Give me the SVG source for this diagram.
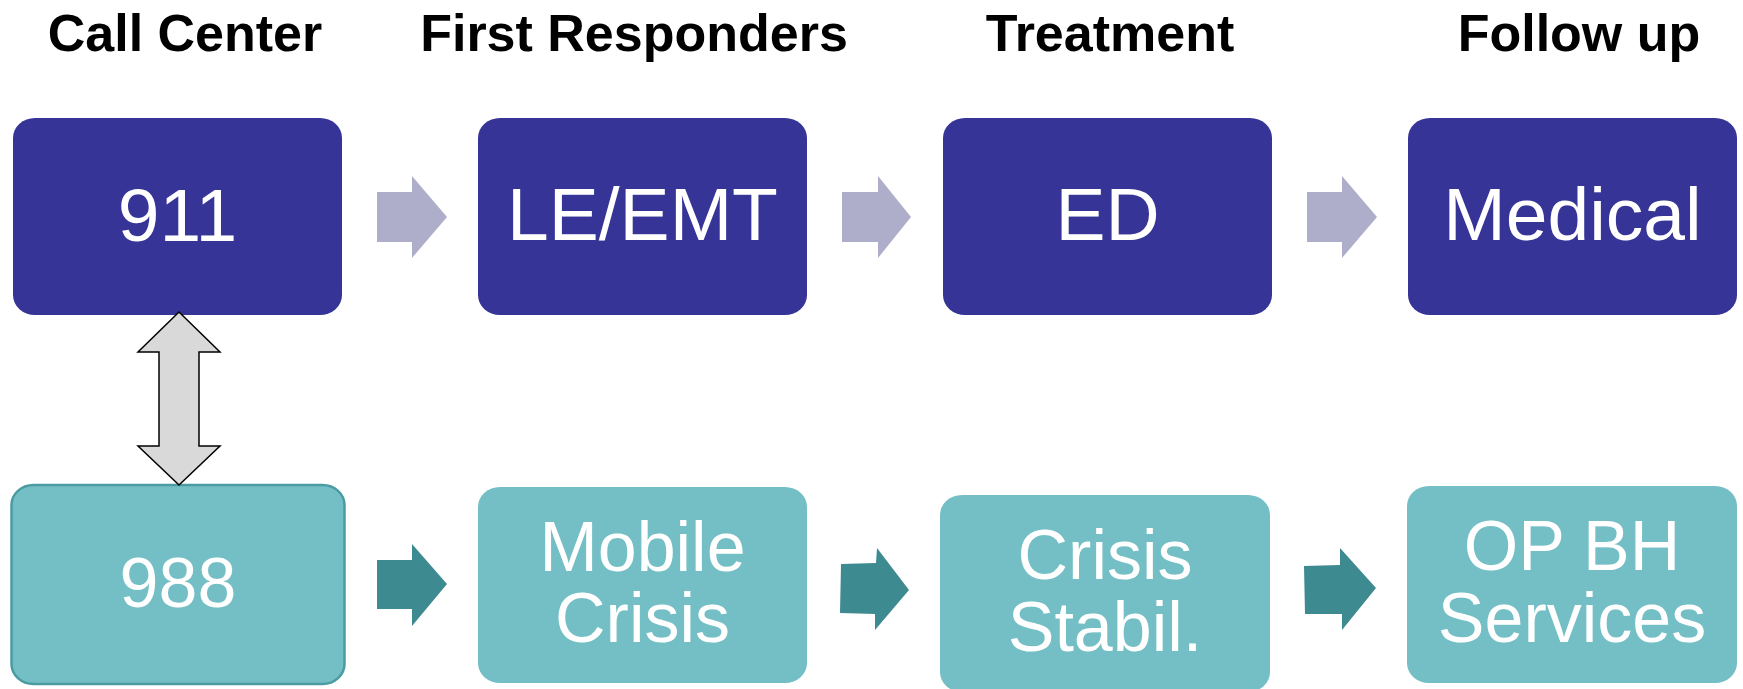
<svg xmlns="http://www.w3.org/2000/svg" width="1743" height="689" viewBox="0 0 1743 689">
<style>
.hdr{font-family:"Liberation Sans",Arial,sans-serif;font-weight:bold;font-size:52px;fill:#000;text-anchor:middle}
.lbl{font-family:"Liberation Sans",Arial,sans-serif;fill:#fff;text-anchor:middle}
.big{font-size:75px}
.med{font-size:70px}
.blue{fill:#363597}
.teal{fill:#74bfc5}
.arrL{fill:#aeaecb}
.arrD{fill:#3e8a91}
</style>
<rect width="1743" height="689" fill="#ffffff"/>
<g id="headers">
<text class="hdr" x="185" y="51">Call Center</text>
<text class="hdr" x="634" y="51">First Responders</text>
<text class="hdr" x="1110" y="51">Treatment</text>
<text class="hdr" x="1579" y="51">Follow up</text>
</g>
<g id="n911"><rect class="blue" x="13" y="118" width="329" height="197" rx="22" ry="20"/><text class="lbl big" x="177.5" y="241">911</text></g>
<g id="nLEEMT"><rect class="blue" x="478" y="118" width="329" height="197" rx="22" ry="20"/><text class="lbl big" x="642.5" y="240">LE/EMT</text></g>
<g id="nED"><rect class="blue" x="943" y="118" width="329" height="197" rx="22" ry="20"/><text class="lbl big" x="1107.5" y="240">ED</text></g>
<g id="nMedical"><rect class="blue" x="1408" y="118" width="329" height="197" rx="22" ry="20"/><text class="lbl big" x="1572.5" y="240">Medical</text></g>
<g id="n988"><rect class="teal" x="11.5" y="485" width="333" height="199" rx="22" ry="20" stroke="#4b9ca2" stroke-width="2.5"/><text class="lbl med" x="178" y="607">988</text></g>
<g id="nMobileCrisis"><rect class="teal" x="478" y="487" width="329" height="196" rx="22" ry="20"/><text class="lbl med" x="642.5" y="571">Mobile</text><text class="lbl med" x="642.5" y="642">Crisis</text></g>
<g id="nCrisisStabil"><rect class="teal" x="940" y="495" width="330" height="197" rx="22" ry="20"/><text class="lbl med" x="1105" y="579">Crisis</text><text class="lbl med" x="1105" y="651">Stabil.</text></g>
<g id="nOPBH"><rect class="teal" x="1407" y="486" width="330" height="197" rx="22" ry="20"/><text class="lbl med" x="1572" y="570">OP BH</text><text class="lbl med" x="1572" y="642">Services</text></g>
<g id="connectors">
<polygon class="arrL" points="377,192 412,192 412,176 447,217 412,258 412,242 377,242"/>
<polygon class="arrL" points="842,192 878,192 878,176 911,217 878,258 878,242 842,242"/>
<polygon class="arrL" points="1307,192 1342,192 1342,176 1377,217 1342,258 1342,242 1307,242"/>
<polygon class="arrD" points="377,560 412,560 412,544 447,584 412,626 412,609 377,609"/>
<polygon class="arrD" points="841,564 876,563 877,548 909,590 875,630 875,614 840,613"/>
<polygon class="arrD" points="1304,566 1340,565 1340,548 1376,588 1342,630 1342,614 1305,614"/>
<polygon points="179,312 220,352 199,352 199,446 220,446 179,485 138,446 159,446 159,352 138,352" fill="#d9d9d9" stroke="#000" stroke-width="1.5" stroke-linejoin="miter"/>
</g>
</svg>
